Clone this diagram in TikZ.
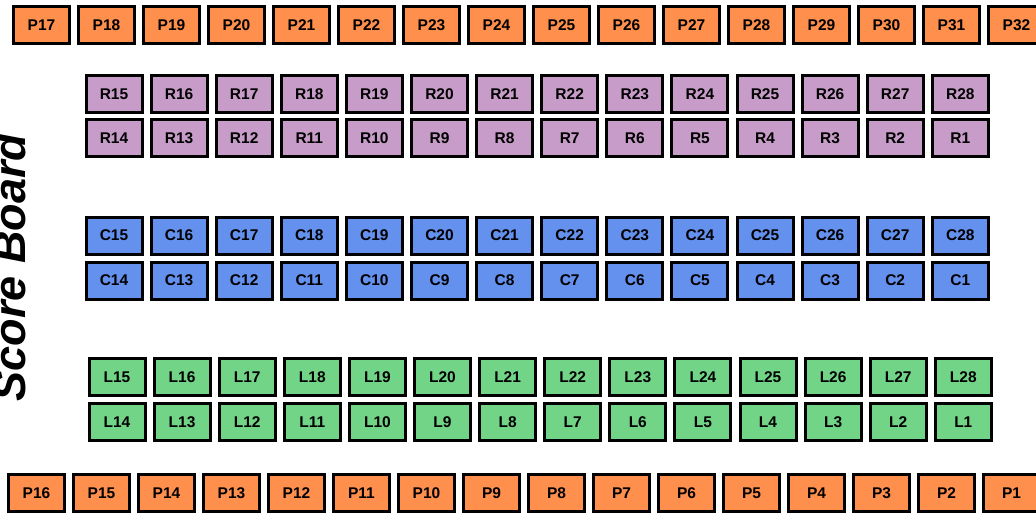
\documentclass[tikz,border=0pt]{standalone}
\usepackage{fontspec}
\setmainfont{Liberation Sans}
\usetikzlibrary{positioning}

\definecolor{parkorange}{HTML}{FF8F4D}
\definecolor{rowpurple}{HTML}{C79CC8}
\definecolor{rowblue}{HTML}{6490EE}
\definecolor{rowgreen}{HTML}{72D486}

\begin{document}
\begin{tikzpicture}[x=1pt, y=-1pt, seat/.style={draw, line width=3pt, minimum width=56pt, minimum height=37pt,
    inner sep=0pt, font=\bfseries\fontsize{15.5}{18}\selectfont}]
    \useasboundingbox (0,0) rectangle (1036,516);
    \clip (0,0) rectangle (1036,516);
    % parking rows
    \foreach \i in {0,...,15} {
      \pgfmathtruncatemacro{\top}{17+\i}
      \pgfmathtruncatemacro{\bot}{16-\i}
      \node[seat, fill=parkorange] (p\top) at (41.5+65*\i, 25) {P\top};
      \node[seat, fill=parkorange] (p\bot) at (36.5+65*\i, 493) {P\bot};
    }
    % seat blocks R, C, L
    \foreach \i in {0,...,13} {
      \pgfmathtruncatemacro{\up}{15+\i}
      \pgfmathtruncatemacro{\dn}{14-\i}
      \node[seat, fill=rowpurple] (r\up) at (114+65.1*\i, 94) {R\up};
      \node[seat, fill=rowpurple] (r\dn) at (114+65.1*\i, 138) {R\dn};
      \node[seat, fill=rowblue] (c\up) at (114+65.1*\i, 235.5) {C\up};
      \node[seat, fill=rowblue] (c\dn) at (114+65.1*\i, 280.5) {C\dn};
      \node[seat, fill=rowgreen] (l\up) at (117+65.1*\i, 377) {L\up};
      \node[seat, fill=rowgreen] (l\dn) at (117+65.1*\i, 422) {L\dn};
    }
    \node[rotate=90, anchor=base, inner sep=0pt, font=\bfseries\itshape\fontsize{45}{54}\selectfont] (board) at (25, 267.5) {Score Board};
  \end{tikzpicture}
\end{document}
